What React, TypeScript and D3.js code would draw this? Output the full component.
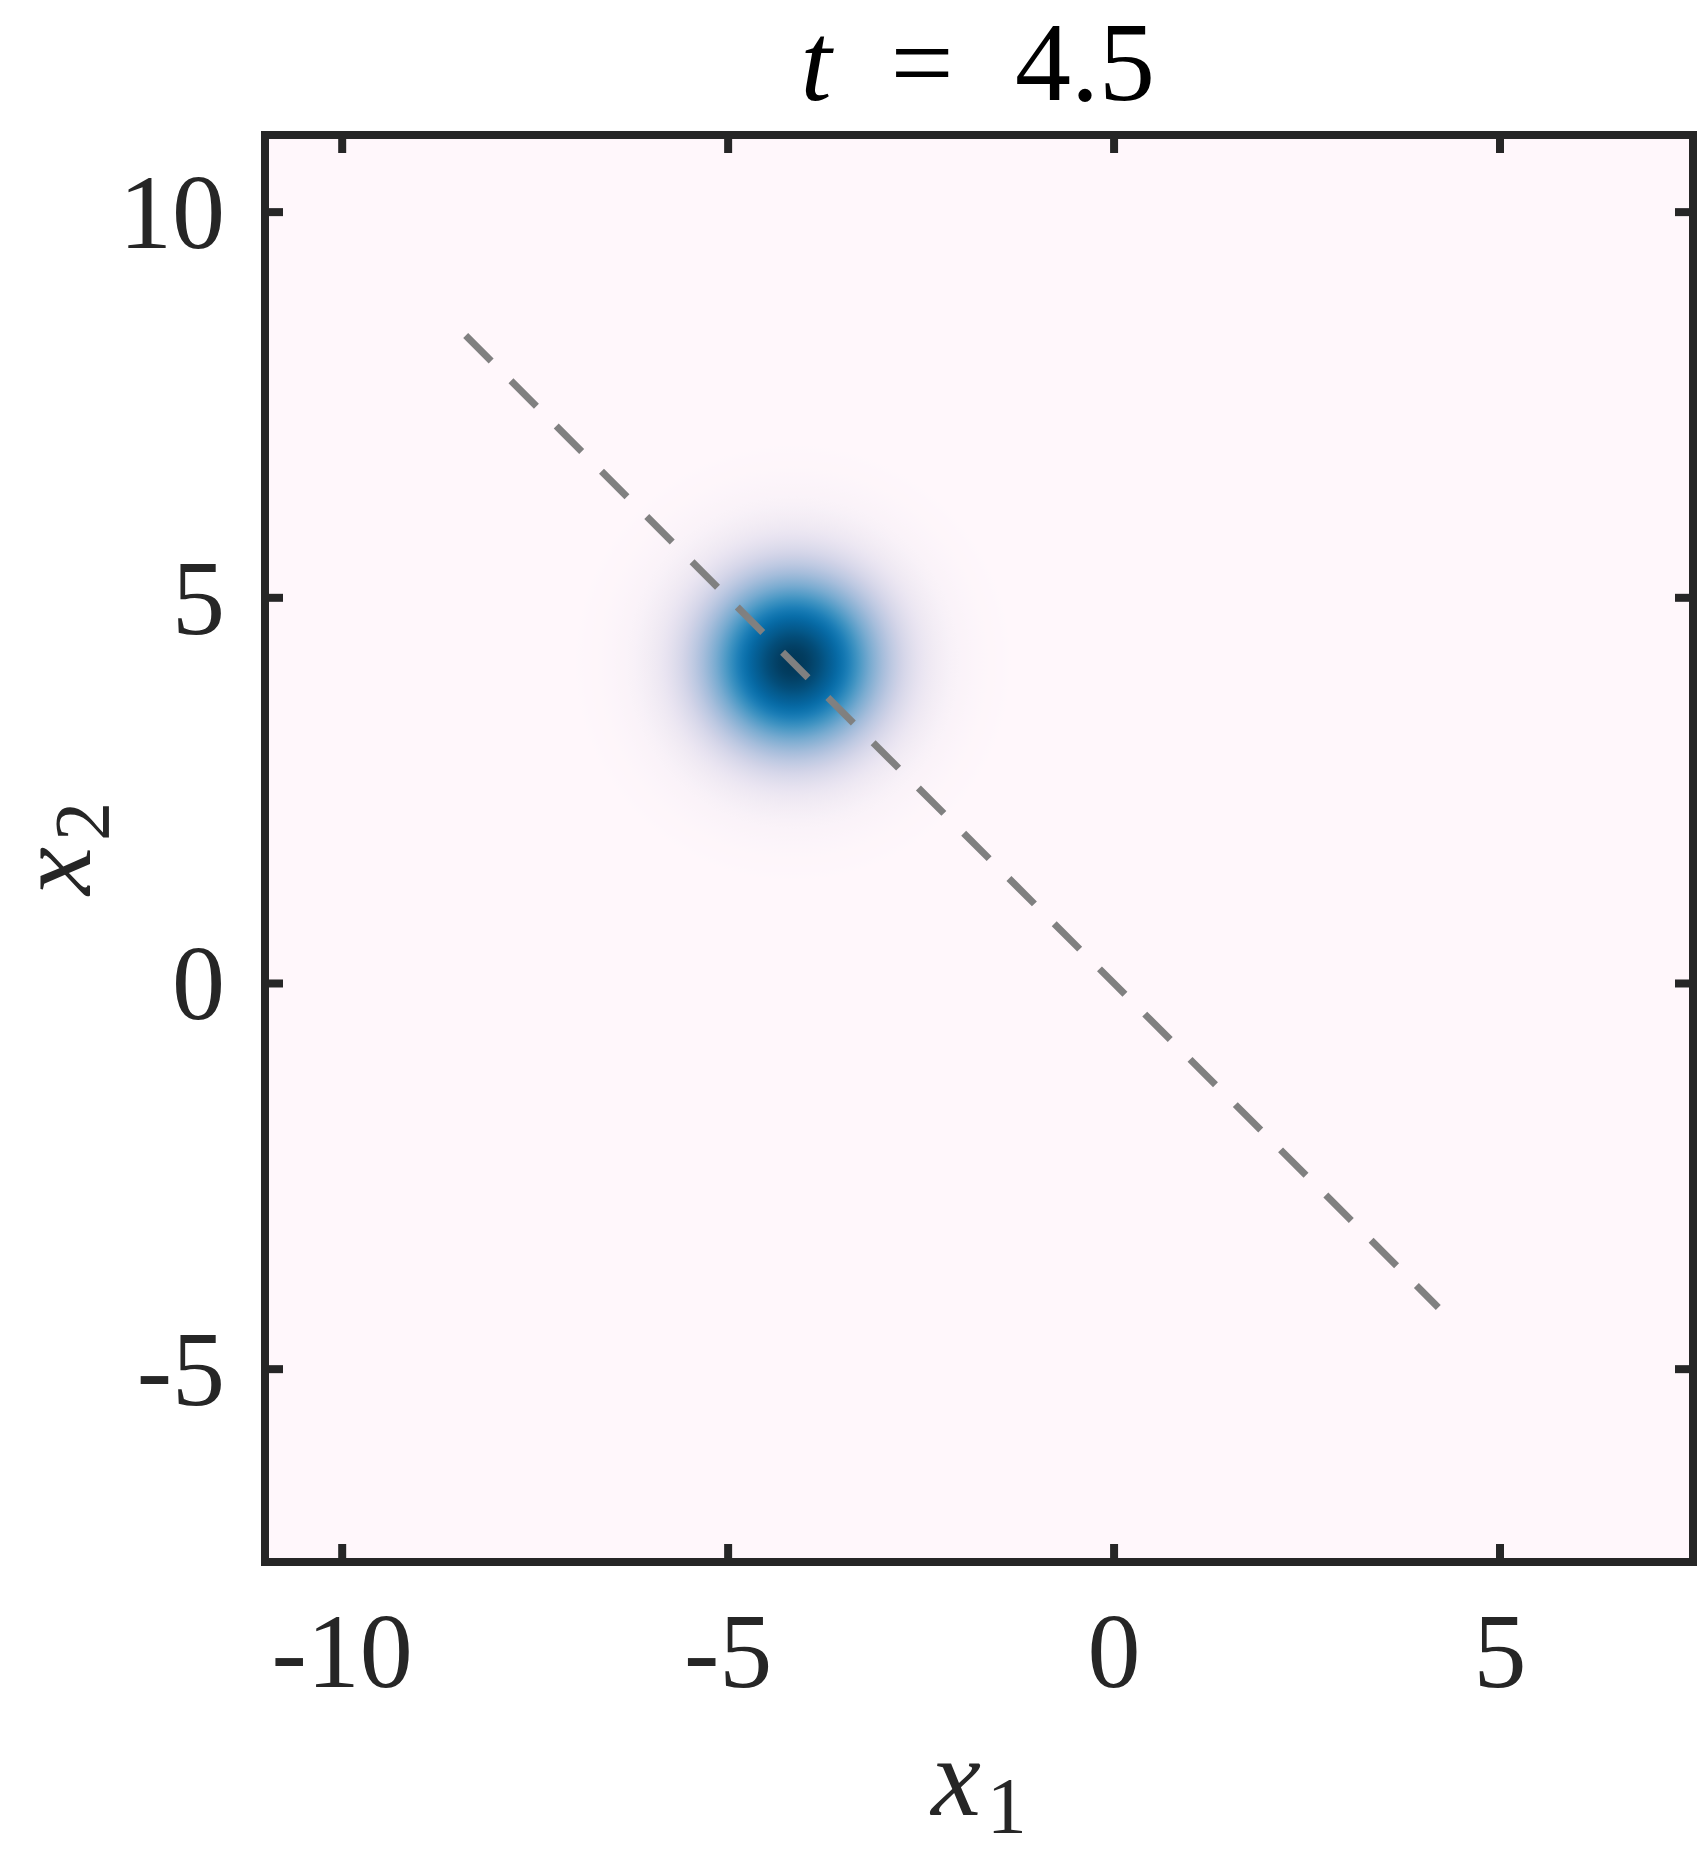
import React from 'react';
import * as d3 from 'd3';

// axes
const xDomain = [-11, 7.5];
const yDomain = [-7.5, 11];
const xTicks = [-10, -5, 0, 5];
const yTicks = [-5, 0, 5, 10];
const titleTime = '4.5';

// density blob (gaussian bump)
const blobCenter = [-4.16, 4.16];
const blobSigma = 0.83;

// dashed reference line x2 = -x1
const lineX = [-8.4, 4.2];
const lineY = [8.4, -4.2];

const W = 1700;
const H = 1854;
const box = { left: 265, top: 135, right: 1693, bottom: 1562 };
const ink = '#262626';
const serif = '"Liberation Serif", "DejaVu Serif", serif';

export default function App() {
  const x = d3.scaleLinear().domain(xDomain).range([box.left, box.right]);
  const y = d3.scaleLinear().domain(yDomain).range([box.bottom, box.top]);
  const color = (v: number) => d3.interpolatePuBu(v);

  const cx = x(blobCenter[0]);
  const cy = y(blobCenter[1]);
  const reach = 4; // in sigmas
  const rPix = x(blobCenter[0] + blobSigma * reach) - cx;
  const stops = d3.range(0, 61).map((k) => {
    const s = (k / 60) * reach;
    return { off: k / 60, c: color(Math.exp(-(s * s) / 2)) };
  });

  const line = d3
    .line<number>()
    .x((_, i) => x(lineX[i]))
    .y((_, i) => y(lineY[i]));

  const tickLen = 18;
  const mid = (box.left + box.right) / 2;

  return (
    <svg
      width={W}
      height={H}
      style={{ position: 'absolute', left: 0, top: 0, background: '#fff' }}
    >
      <defs>
        <radialGradient id="blob" gradientUnits="userSpaceOnUse" cx={cx} cy={cy} r={rPix}>
          {stops.map((s) => (
            <stop key={s.off} offset={s.off} stopColor={s.c} />
          ))}
        </radialGradient>
        <clipPath id="plot">
          <rect x={box.left} y={box.top} width={box.right - box.left} height={box.bottom - box.top} />
        </clipPath>
      </defs>

      <g clipPath="url(#plot)">
        <rect
          x={box.left}
          y={box.top}
          width={box.right - box.left}
          height={box.bottom - box.top}
          fill={color(0)}
        />
        <circle cx={cx} cy={cy} r={rPix} fill="url(#blob)" />
        <path
          d={line([0, 1]) || ''}
          fill="none"
          stroke="#808080"
          strokeWidth={7}
          strokeDasharray="36 28"
        />
      </g>

      {/* ticks on all four sides */}
      <g stroke={ink} strokeWidth={8}>
        {xTicks.map((t) => (
          <g key={'x' + t}>
            <line x1={x(t)} x2={x(t)} y1={box.bottom} y2={box.bottom - tickLen} />
            <line x1={x(t)} x2={x(t)} y1={box.top} y2={box.top + tickLen} />
          </g>
        ))}
        {yTicks.map((t) => (
          <g key={'y' + t}>
            <line x1={box.left} x2={box.left + tickLen} y1={y(t)} y2={y(t)} />
            <line x1={box.right} x2={box.right - tickLen} y1={y(t)} y2={y(t)} />
          </g>
        ))}
      </g>
      <rect
        x={box.left}
        y={box.top}
        width={box.right - box.left}
        height={box.bottom - box.top}
        fill="none"
        stroke={ink}
        strokeWidth={8}
      />

      <g fill={ink} fontFamily={serif} fontSize={106}>
        {xTicks.map((t) => (
          <text key={'xl' + t} x={x(t)} y={box.bottom + 125} textAnchor="middle">
            {String(t)}
          </text>
        ))}
        {yTicks.map((t) => (
          <text key={'yl' + t} x={box.left - 40} y={y(t) + 36} textAnchor="end">
            {String(t)}
          </text>
        ))}
      </g>

      <g fill="#000" fontFamily={serif} fontSize={112} textAnchor="middle">
        <text x={mid - 163} y={100} fontStyle="italic">t</text>
        <text x={mid - 57} y={100}>=</text>
        <text x={mid + 106} y={100}>{titleTime}</text>
      </g>

      <text x={mid} y={1815} textAnchor="middle" fill={ink} fontFamily={serif} fontSize={112}>
        <tspan fontStyle="italic">x</tspan>
        <tspan fontSize={80} dy={18} dx={6}>1</tspan>
      </text>

      <text
        transform={`translate(90, ${(box.top + box.bottom) / 2}) rotate(-90)`}
        textAnchor="middle"
        fill={ink}
        fontFamily={serif}
        fontSize={108}
      >
        <tspan fontStyle="italic">x</tspan>
        <tspan fontSize={78} dy={18} dx={6}>2</tspan>
      </text>
    </svg>
  );
}
